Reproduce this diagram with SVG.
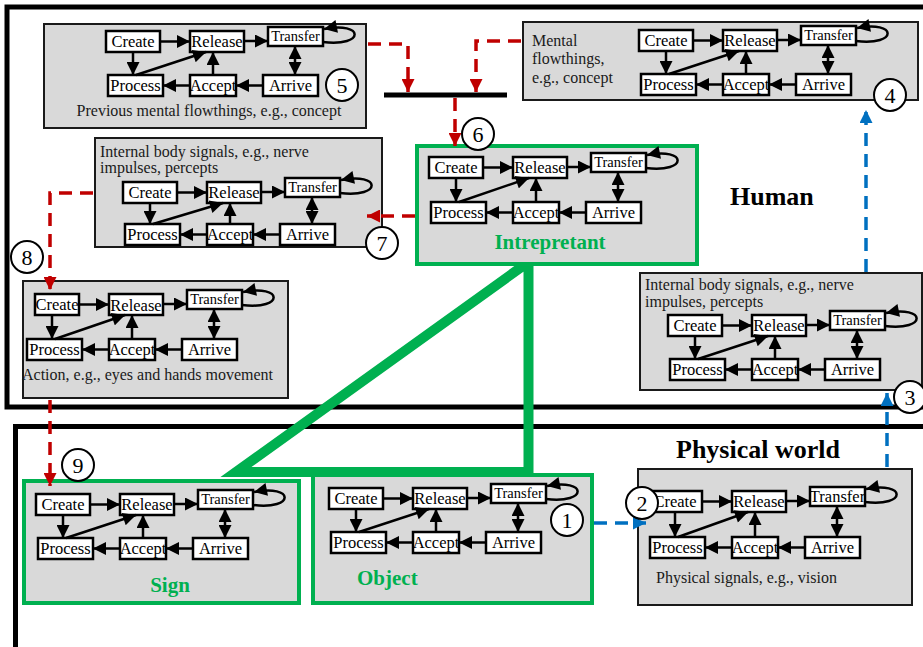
<svg xmlns="http://www.w3.org/2000/svg" width="923" height="647" viewBox="0 0 923 647">
<defs>
<marker id="ah" viewBox="0 0 10 10" refX="10" refY="5" markerWidth="14" markerHeight="13" markerUnits="userSpaceOnUse" orient="auto-start-reverse"><path d="M0,0 L10,5 L0,10 z" fill="#000"/></marker>
<marker id="ahr" viewBox="0 0 10 10" refX="10" refY="5" markerWidth="14" markerHeight="13" markerUnits="userSpaceOnUse" orient="auto"><path d="M0,0 L10,5 L0,10 z" fill="#c00000"/></marker>
<marker id="ahb" viewBox="0 0 10 10" refX="10" refY="5" markerWidth="14" markerHeight="13" markerUnits="userSpaceOnUse" orient="auto"><path d="M0,0 L10,5 L0,10 z" fill="#0070c0"/></marker>
</defs>
<style>
.frame{fill:none;stroke:#000;stroke-width:5}
.box{fill:#d9d9d9;stroke:#1a1a1a;stroke-width:2}
.gbox{fill:#d9d9d9;stroke:#00b050;stroke-width:4}
.fm rect{fill:#fff;stroke:#000;stroke-width:2.5}
.fm text{font-family:"Liberation Serif",serif;font-size:16.5px;text-anchor:middle;fill:#000}
.fm text.t{font-size:14.5px}
.fm line,.fm path{stroke:#000;stroke-width:2.5;fill:none;marker-end:url(#ah)}
.fm line.d{marker-start:url(#ah)}
.cap{font-family:"Liberation Serif",serif;font-size:16px;fill:#1a1a1a}
.title{font-family:"Liberation Serif",serif;font-size:26px;font-weight:bold;fill:#000}
.gl{font-family:"Liberation Serif",serif;font-size:21px;font-weight:bold;fill:#00b050}
.red{fill:none;stroke:#c00000;stroke-width:3.5;stroke-dasharray:13 8;marker-end:url(#ahr)}
.blue{fill:none;stroke:#0070c0;stroke-width:3.5;stroke-dasharray:13 8;marker-end:url(#ahb)}
.step circle{fill:#fff;stroke:#000;stroke-width:2}
.step text{font-family:"Liberation Serif",serif;font-size:22px;text-anchor:middle;fill:#000}
</style>

<g id="frames">
<rect class="frame" x="7" y="7" width="930" height="400"/>
<rect class="frame" x="15.5" y="426.5" width="920" height="240"/>
<text class="title" x="730" y="205">Human</text>
<text class="title" x="758" y="458" text-anchor="middle">Physical world</text>
</g>

<g id="triangle">
<polygon points="528.5,262 236,472 528.5,472" fill="none" stroke="#00b050" stroke-width="10"/>
</g>

<g id="node-previous-mental">
<rect class="box" x="44" y="24" width="322" height="104"/>
<g class="fm" transform="translate(106,31)">
<rect x="0" y="0" width="54" height="21"/><rect x="84" y="0" width="54" height="21"/><rect x="162" y="-4" width="55" height="19"/><rect x="2" y="44" width="55" height="21"/><rect x="84" y="44" width="46" height="21"/><rect x="157" y="44" width="55" height="21"/>
<text x="27" y="16">Create</text><text x="111" y="16">Release</text><text class="t" x="189.5" y="10">Transfer</text><text x="29.5" y="60">Process</text><text x="107" y="60">Accept</text><text x="184.5" y="60">Arrive</text>
<line x1="54" y1="10.5" x2="84" y2="10.5"/><line x1="138" y1="10" x2="162" y2="10"/><line x1="27" y1="21" x2="27" y2="44"/><line x1="30" y1="44" x2="100" y2="21"/><line x1="107" y1="44" x2="107" y2="21"/><line x1="157" y1="54.5" x2="130" y2="54.5"/><line x1="84" y1="54.5" x2="57" y2="54.5"/><line class="d" x1="189" y1="15" x2="189" y2="44"/><path d="M217,11 C260,16 258,-10 218,-2"/>
</g>
<text class="cap" x="209" y="116" text-anchor="middle">Previous mental flowthings, e.g., concept</text>
</g>

<g id="node-mental">
<rect class="box" x="523" y="22" width="395" height="78"/>
<text class="cap" x="532" y="46">Mental</text>
<text class="cap" x="532" y="64">flowthings,</text>
<text class="cap" x="532" y="83">e.g., concept</text>
<g class="fm" transform="translate(639,30)">
<rect x="0" y="0" width="54" height="21"/><rect x="84" y="0" width="54" height="21"/><rect x="162" y="-4" width="55" height="19"/><rect x="2" y="44" width="55" height="21"/><rect x="84" y="44" width="46" height="21"/><rect x="157" y="44" width="55" height="21"/>
<text x="27" y="16">Create</text><text x="111" y="16">Release</text><text class="t" x="189.5" y="10">Transfer</text><text x="29.5" y="60">Process</text><text x="107" y="60">Accept</text><text x="184.5" y="60">Arrive</text>
<line x1="54" y1="10.5" x2="84" y2="10.5"/><line x1="138" y1="10" x2="162" y2="10"/><line x1="27" y1="21" x2="27" y2="44"/><line x1="30" y1="44" x2="100" y2="21"/><line x1="107" y1="44" x2="107" y2="21"/><line x1="157" y1="54.5" x2="130" y2="54.5"/><line x1="84" y1="54.5" x2="57" y2="54.5"/><line class="d" x1="189" y1="15" x2="189" y2="44"/><path d="M217,11 C260,16 258,-10 218,-2"/>
</g>
</g>

<g id="node-internal-left">
<rect class="box" x="95" y="138" width="287" height="109"/>
<text class="cap" x="100" y="157">Internal body signals, e.g., nerve</text>
<text class="cap" x="100" y="173">impulses, percepts</text>
<g class="fm" transform="translate(123,182)">
<rect x="0" y="0" width="54" height="21"/><rect x="84" y="0" width="54" height="21"/><rect x="162" y="-4" width="55" height="19"/><rect x="2" y="42" width="55" height="21"/><rect x="84" y="42" width="46" height="21"/><rect x="157" y="42" width="55" height="21"/>
<text x="27" y="16">Create</text><text x="111" y="16">Release</text><text class="t" x="189.5" y="10">Transfer</text><text x="29.5" y="58">Process</text><text x="107" y="58">Accept</text><text x="184.5" y="58">Arrive</text>
<line x1="54" y1="10.5" x2="84" y2="10.5"/><line x1="138" y1="10" x2="162" y2="10"/><line x1="27" y1="21" x2="27" y2="42"/><line x1="30" y1="42" x2="100" y2="21"/><line x1="107" y1="42" x2="107" y2="21"/><line x1="157" y1="52.5" x2="130" y2="52.5"/><line x1="84" y1="52.5" x2="57" y2="52.5"/><line class="d" x1="189" y1="15" x2="189" y2="42"/><path d="M217,11 C260,16 258,-10 218,-2"/>
</g>
</g>

<g id="node-intrepretant">
<rect class="gbox" x="417" y="146" width="280" height="118"/>
<g class="fm" transform="translate(429,157)">
<rect x="0" y="0" width="54" height="21"/><rect x="84" y="0" width="54" height="21"/><rect x="162" y="-4" width="55" height="19"/><rect x="2" y="45" width="55" height="21"/><rect x="84" y="45" width="46" height="21"/><rect x="157" y="45" width="55" height="21"/>
<text x="27" y="16">Create</text><text x="111" y="16">Release</text><text class="t" x="189.5" y="10">Transfer</text><text x="29.5" y="61">Process</text><text x="107" y="61">Accept</text><text x="184.5" y="61">Arrive</text>
<line x1="54" y1="10.5" x2="84" y2="10.5"/><line x1="138" y1="10" x2="162" y2="10"/><line x1="27" y1="21" x2="27" y2="45"/><line x1="30" y1="45" x2="100" y2="21"/><line x1="107" y1="45" x2="107" y2="21"/><line x1="157" y1="55.5" x2="130" y2="55.5"/><line x1="84" y1="55.5" x2="57" y2="55.5"/><line class="d" x1="189" y1="15" x2="189" y2="45"/><path d="M217,11 C260,16 258,-10 218,-2"/>
</g>
<text class="gl" x="550" y="249" text-anchor="middle">Intrepretant</text>
</g>

<g id="node-action">
<rect class="box" x="23" y="281" width="265" height="117"/>
<g class="fm" transform="translate(25,294)">
<rect x="10" y="0" width="44" height="21"/><rect x="84" y="0" width="54" height="21"/><rect x="162" y="-4" width="55" height="19"/><rect x="2" y="45" width="55" height="21"/><rect x="84" y="45" width="46" height="21"/><rect x="157" y="45" width="55" height="21"/>
<text x="32" y="16">Create</text><text x="111" y="17">Release</text><text class="t" x="189.5" y="10">Transfer</text><text x="29.5" y="61">Process</text><text x="107" y="61">Accept</text><text x="184.5" y="61">Arrive</text>
<line x1="54" y1="10.5" x2="84" y2="10.5"/><line x1="138" y1="10" x2="162" y2="10"/><line x1="27" y1="21" x2="27" y2="45"/><line x1="30" y1="45" x2="100" y2="21"/><line x1="107" y1="45" x2="107" y2="21"/><line x1="157" y1="55.5" x2="130" y2="55.5"/><line x1="84" y1="55.5" x2="57" y2="55.5"/><line class="d" x1="189" y1="15" x2="189" y2="45"/><path d="M217,11 C260,16 258,-10 218,-2"/>
</g>
<text class="cap" x="22" y="380">Action, e.g., eyes and hands movement</text>
</g>

<g id="node-internal-right">
<rect class="box" x="640" y="273" width="282" height="117"/>
<text class="cap" x="645" y="290">Internal body signals, e.g., nerve</text>
<text class="cap" x="645" y="307">impulses, percepts</text>
<g class="fm" transform="translate(668,315)">
<rect x="0" y="0" width="54" height="21"/><rect x="84" y="0" width="54" height="21"/><rect x="162" y="-4" width="55" height="19"/><rect x="2" y="44" width="55" height="21"/><rect x="84" y="44" width="46" height="21"/><rect x="157" y="44" width="55" height="21"/>
<text x="27" y="16">Create</text><text x="111" y="16">Release</text><text class="t" x="189.5" y="10">Transfer</text><text x="29.5" y="60">Process</text><text x="107" y="60">Accept</text><text x="184.5" y="60">Arrive</text>
<line x1="54" y1="10.5" x2="84" y2="10.5"/><line x1="138" y1="10" x2="162" y2="10"/><line x1="27" y1="21" x2="27" y2="44"/><line x1="30" y1="44" x2="100" y2="21"/><line x1="107" y1="44" x2="107" y2="21"/><line x1="157" y1="54.5" x2="130" y2="54.5"/><line x1="84" y1="54.5" x2="57" y2="54.5"/><line class="d" x1="189" y1="15" x2="189" y2="44"/><path d="M217,11 C260,16 258,-10 218,-2"/>
</g>
</g>

<g id="node-sign">
<rect class="gbox" x="24" y="481" width="275" height="122"/>
<g class="fm" transform="translate(36,494)">
<rect x="0" y="0" width="54" height="21"/><rect x="84" y="0" width="54" height="21"/><rect x="162" y="-4" width="55" height="19"/><rect x="2" y="44" width="55" height="21"/><rect x="84" y="44" width="46" height="21"/><rect x="157" y="44" width="55" height="21"/>
<text x="27" y="16">Create</text><text x="111" y="16">Release</text><text class="t" x="189.5" y="10">Transfer</text><text x="29.5" y="60">Process</text><text x="107" y="60">Accept</text><text x="184.5" y="60">Arrive</text>
<line x1="54" y1="10.5" x2="84" y2="10.5"/><line x1="138" y1="10" x2="162" y2="10"/><line x1="27" y1="21" x2="27" y2="44"/><line x1="30" y1="44" x2="100" y2="21"/><line x1="107" y1="44" x2="107" y2="21"/><line x1="157" y1="54.5" x2="130" y2="54.5"/><line x1="84" y1="54.5" x2="57" y2="54.5"/><line class="d" x1="189" y1="15" x2="189" y2="44"/><path d="M217,11 C260,16 258,-10 218,-2"/>
</g>
<text class="gl" x="170" y="592" text-anchor="middle">Sign</text>
</g>

<g id="node-object">
<rect class="gbox" x="313" y="475" width="279" height="128"/>
<g class="fm" transform="translate(329,488)">
<rect x="0" y="0" width="54" height="21"/><rect x="84" y="0" width="54" height="21"/><rect x="162" y="-4" width="55" height="19"/><rect x="2" y="44" width="55" height="21"/><rect x="84" y="44" width="46" height="21"/><rect x="157" y="44" width="55" height="21"/>
<text x="27" y="16">Create</text><text x="111" y="16">Release</text><text class="t" x="189.5" y="10">Transfer</text><text x="29.5" y="60">Process</text><text x="107" y="60">Accept</text><text x="184.5" y="60">Arrive</text>
<line x1="54" y1="10.5" x2="84" y2="10.5"/><line x1="138" y1="10" x2="162" y2="10"/><line x1="27" y1="21" x2="27" y2="44"/><line x1="30" y1="44" x2="100" y2="21"/><line x1="107" y1="44" x2="107" y2="21"/><line x1="157" y1="54.5" x2="130" y2="54.5"/><line x1="84" y1="54.5" x2="57" y2="54.5"/><line class="d" x1="189" y1="15" x2="189" y2="44"/><path d="M217,11 C260,16 258,-10 218,-2"/>
</g>
<text class="gl" x="357" y="585">Object</text>
</g>

<g id="node-physical">
<rect class="box" x="638" y="469" width="274" height="136"/>
<g class="fm" transform="translate(648,491)">
<rect x="0" y="0" width="54" height="21"/><rect x="84" y="0" width="54" height="21"/><rect x="162" y="-4" width="55" height="19"/><rect x="2" y="46" width="55" height="21"/><rect x="84" y="46" width="46" height="21"/><rect x="157" y="46" width="55" height="21"/>
<text x="27" y="16">Create</text><text x="111" y="16">Release</text><text class="t" x="189.5" y="11" style="font-size:16.5px">Transfer</text><text x="29.5" y="62">Process</text><text x="107" y="62">Accept</text><text x="184.5" y="62">Arrive</text>
<line x1="54" y1="10.5" x2="84" y2="10.5"/><line x1="138" y1="10" x2="162" y2="10"/><line x1="27" y1="21" x2="27" y2="46"/><line x1="30" y1="46" x2="100" y2="21"/><line x1="107" y1="46" x2="107" y2="21"/><line x1="157" y1="56.5" x2="130" y2="56.5"/><line x1="84" y1="56.5" x2="57" y2="56.5"/><line class="d" x1="189" y1="15" x2="189" y2="46"/><path d="M217,11 C260,16 258,-10 218,-2"/>
</g>
<text class="cap" x="656" y="583">Physical signals, e.g., vision</text>
</g>

<g id="node-bar">
<line x1="384" y1="95" x2="507" y2="95" stroke="#000" stroke-width="5"/>
</g>

<g id="connectors">
<path class="red" d="M368,44 H408 V92"/>
<path class="red" d="M521,41 H476 V92"/>
<path class="red" d="M455,98 V146"/>
<path class="red" d="M415,216 H367"/>
<path class="red" d="M93,193 H50 V290"/>
<path class="red" d="M50,400 V486"/>
<path class="blue" d="M594,523 H646"/>
<path class="blue" d="M887,467 V393"/>
<path class="blue" d="M866,272 V110"/>
</g>

<g id="steps" class="step">
<circle cx="567" cy="520" r="16"/><text x="567" y="528">1</text>
<circle cx="642" cy="503" r="16"/><text x="642" y="511">2</text>
<circle cx="910" cy="397" r="16"/><text x="910" y="405">3</text>
<circle cx="890" cy="95" r="16"/><text x="890" y="103">4</text>
<circle cx="342" cy="85" r="16"/><text x="342" y="93">5</text>
<circle cx="478" cy="134" r="16"/><text x="478" y="142">6</text>
<circle cx="382" cy="243" r="16"/><text x="382" y="251">7</text>
<circle cx="27" cy="257" r="16"/><text x="27" y="265">8</text>
<circle cx="78" cy="465" r="16"/><text x="78" y="473">9</text>
</g>
</svg>
